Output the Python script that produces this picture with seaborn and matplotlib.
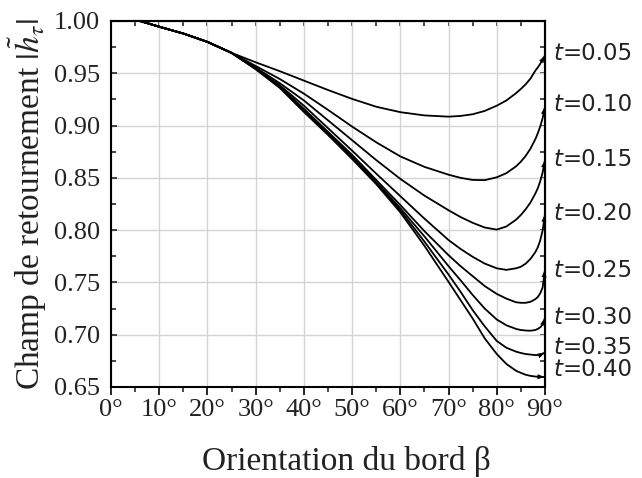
import matplotlib
matplotlib.use("Agg")
import matplotlib.pyplot as plt
import seaborn as sns
import pandas as pd
import numpy as np

# ---------------- data ----------------
beta = [6, 10, 15, 20, 25, 30, 35, 40, 45, 50, 55, 60, 65, 70, 72.5, 75, 77.5, 80,
        82, 84, 85, 86, 87, 88, 88.5, 89, 89.5, 90]
common = [1.000, 0.9945, 0.988, 0.980, 0.9695]

h_005 = common + [0.9605, 0.952, 0.943, 0.934, 0.9255, 0.918, 0.9128, 0.9097, 0.9085, 0.9092, 0.9108, 0.914, 0.919,
                  0.924, 0.931, 0.935, 0.9395, 0.945, 0.9525, 0.9555, 0.959, 0.963, 0.967]
h_010 = common + [0.957, 0.9445, 0.9305, 0.915, 0.899, 0.884, 0.8705, 0.8605, 0.853, 0.850, 0.848, 0.8478, 0.8505,
                  0.8545, 0.861, 0.8655, 0.871, 0.878, 0.887, 0.8925, 0.899, 0.907, 0.918]
h_015 = common + [0.9555, 0.9405, 0.924, 0.905, 0.886, 0.867, 0.849, 0.833, 0.819, 0.8125, 0.807, 0.8025, 0.8005,
                  0.8035, 0.810, 0.8145, 0.820, 0.8265, 0.835, 0.840, 0.8465, 0.855, 0.867]
h_020 = common + [0.955, 0.9385, 0.919, 0.8975, 0.876, 0.854, 0.8325, 0.811, 0.7905, 0.782, 0.7745, 0.768, 0.7635,
                  0.762, 0.7635, 0.765, 0.768, 0.7725, 0.779, 0.7835, 0.790, 0.7995, 0.815]
h_025 = common + [0.9545, 0.9375, 0.916, 0.894, 0.872, 0.848, 0.824, 0.799, 0.776, 0.7655, 0.756, 0.7465, 0.739,
                  0.7345, 0.731, 0.7305, 0.7305, 0.7315, 0.734, 0.736, 0.7395, 0.745, 0.762]
h_030 = common + [0.9545, 0.937, 0.915, 0.893, 0.870, 0.846, 0.821, 0.794, 0.7655, 0.752, 0.738, 0.725, 0.7145,
                  0.709, 0.7055, 0.7045, 0.704, 0.7038, 0.7045, 0.7055, 0.707, 0.7095, 0.716]
h_035 = common + [0.954, 0.9365, 0.914, 0.892, 0.869, 0.845, 0.819, 0.789, 0.7575, 0.741, 0.7235, 0.708, 0.694,
                  0.6875, 0.6838, 0.6825, 0.6815, 0.681, 0.6805, 0.6805, 0.681, 0.6818, 0.683]
h_040 = common + [0.954, 0.936, 0.913, 0.891, 0.868, 0.844, 0.817, 0.785, 0.7505, 0.733, 0.7155, 0.6965, 0.6815,
                  0.672, 0.6655, 0.6635, 0.6617, 0.6606, 0.660, 0.6598, 0.6597, 0.6596, 0.6595]

t_values = ["0.05", "0.10", "0.15", "0.20", "0.25", "0.30", "0.35", "0.40"]
series = [h_005, h_010, h_015, h_020, h_025, h_030, h_035, h_040]

xticks = [0, 10, 20, 30, 40, 50, 60, 70, 80, 90]
xtick_labels = ["0°", "10°", "20°", "30°", "40°", "50°", "60°", "70°", "80°", "90°"]
yticks = [0.65, 0.70, 0.75, 0.80, 0.85, 0.90, 0.95, 1.00]
ytick_labels = ["0.65", "0.70", "0.75", "0.80", "0.85", "0.90", "0.95", "1.00"]

xlabel = "Orientation du bord β"
ylabel = r"Champ de retournement $|\tilde{h}_{\tau}|$"

# layout-only: vertical positions of the right-hand labels (data units)
label_y = [0.969, 0.920, 0.868, 0.816, 0.7615, 0.7165, 0.6873, 0.6667]

# ---------------- build table ----------------
rows = []
for t, hs in zip(t_values, series):
    for b, h in zip(beta, hs):
        rows.append({"beta": b, "h": h, "t": t})
df = pd.DataFrame(rows)

# ---------------- style ----------------
sns.set_theme(style="white")
plt.rcParams["font.family"] = ["Liberation Serif", "DejaVu Serif"]
plt.rcParams["mathtext.fontset"] = "stix"

fig = plt.figure(figsize=(6.42, 4.78), dpi=100)
ax = fig.add_axes([0.1729, 0.1904, 0.6760, 0.7657])

sns.lineplot(data=df, x="beta", y="h", hue="t", palette=["black"] * len(t_values),
             legend=False, ax=ax, linewidth=1.3, sort=False, estimator=None)

ax.set_xlim(0, 90)
ax.set_ylim(0.65, 1.00)

ax.set_xticks(xticks)
ax.set_xticklabels(xtick_labels, fontsize=19)
ax.set_yticks(yticks)
ax.set_yticklabels(ytick_labels, fontsize=19)
ax.set_xticks(np.arange(5, 90, 10), minor=True)
ax.set_yticks(np.arange(0.675, 1.0, 0.05), minor=True)

ax.grid(True, which="major", color="#d4d4d4", linewidth=1.0)
ax.set_axisbelow(True)

for s in ax.spines.values():
    s.set_visible(True)
    s.set_color("black")
    s.set_linewidth(1.5)

ax.tick_params(axis="x", which="major", direction="out", length=5.5, width=1.2,
               bottom=True, top=False, pad=3, colors="black", labelcolor="#222222")
ax.tick_params(axis="x", which="minor", direction="out", length=3.5, width=1.2,
               bottom=True, top=False)
ax.tick_params(axis="y", which="major", direction="in", length=4, width=1.2,
               left=True, right=False, pad=8, labelcolor="#222222")
ax.tick_params(axis="y", which="minor", direction="in", length=3.5, width=1.2,
               left=True, right=False)

# secondary ticks on top and right (inward)
top = ax.secondary_xaxis("top")
top.set_xticks(xticks)
top.set_xticks(np.arange(5, 90, 10), minor=True)
top.tick_params(which="both", direction="in", length=3.5, width=1.2, labeltop=False)
top.spines["top"].set_linewidth(1.5)
right = ax.secondary_yaxis("right")
right.set_yticks(yticks)
right.set_yticks(np.arange(0.675, 1.0, 0.05), minor=True)
right.tick_params(which="both", direction="in", length=3.5, width=1.2, labelright=False)
right.spines["right"].set_linewidth(1.5)

ax.set_xlabel(xlabel, fontsize=24, color="#222222")
ax.xaxis.set_label_coords(0.5415, -0.160)
ax.set_ylabel(ylabel, fontsize=24, color="#222222", va="center")
ax.yaxis.set_label_coords(-0.191, 0.5)

# arrowheads at the ends of the curves
for hs in series:
    ax.annotate("", xy=(beta[-1], hs[-1]), xytext=(beta[-2], hs[-2]),
                arrowprops=dict(arrowstyle="-|>,head_length=0.45,head_width=0.15",
                                color="black", lw=0, shrinkA=0, shrinkB=0),
                annotation_clip=False)

# right-hand labels: italic t followed by "=value"
for t, y in zip(t_values, label_y):
    ax.annotate("t", xy=(1.0, y), xycoords=("axes fraction", "data"),
                xytext=(6, 0), textcoords="offset points", ha="left", va="center",
                fontsize=16.5, family="DejaVu Sans", style="italic", color="#222222",
                annotation_clip=False)
    ax.annotate("=" + t, xy=(1.0, y), xycoords=("axes fraction", "data"),
                xytext=(12.5, 0), textcoords="offset points", ha="left", va="center",
                fontsize=16.5, family="DejaVu Sans", color="#222222",
                annotation_clip=False)

fig.savefig("out.png", dpi=100)
